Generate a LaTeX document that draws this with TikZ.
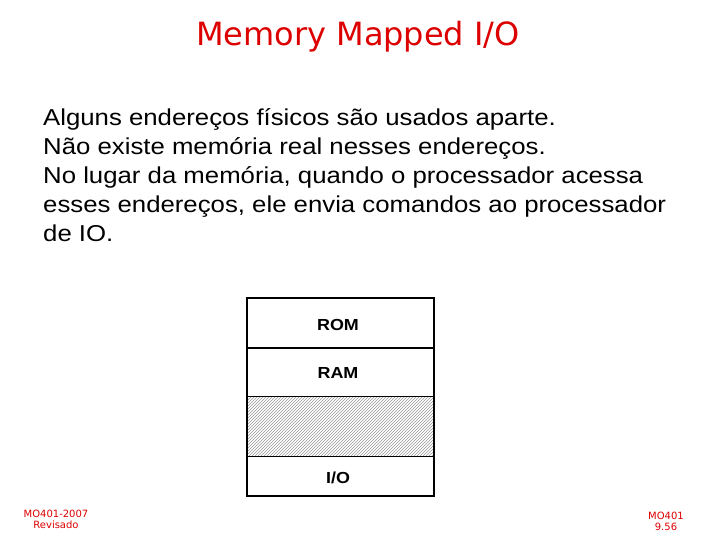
\documentclass[tikz,border=0pt]{standalone}
\usepackage{fontspec}
\setmainfont{Liberation Sans}
\newfontfamily\bodyfont[FakeStretch=1.12]{Liberation Sans}
\newfontfamily\titlefont{DejaVu Sans}
\usetikzlibrary{patterns}
\definecolor{tred}{RGB}{220,0,0}
\begin{document}
\begin{tikzpicture}[x=1pt,y=-1pt,
  lbl/.style={font=\bodyfont\fontsize{16}{18}\selectfont\bfseries},
  foot/.style={font=\titlefont\fontsize{10}{11}\selectfont,text=tred,align=center}]
\useasboundingbox (0,0) rectangle (720,540);
\node[font=\titlefont\fontsize{32}{34}\selectfont,text=tred] (title) at (358,37) {Memory Mapped I/O};
\node[anchor=north west,align=left,font=\bodyfont\fontsize{23}{29}\selectfont,inner sep=0pt] (body) at (43,108)
 {Alguns endereços físicos são usados aparte.\\Não existe memória real nesses endereços.\\No lugar da memória, quando o processador acessa\\esses endereços, ele envia comandos ao processador\\de IO.};
\fill[pattern=north east lines,pattern color=gray!80] (247,396) rectangle (434,456);
\draw[line width=2pt] (247,298) rectangle (434,496);
\draw[line width=2pt] (247,348) -- (434,348);
\draw[line width=0.8pt] (247,396) -- (434,396);
\draw[line width=0.8pt] (247,456) -- (434,456);
\node[lbl] (rom) at (338,325) {ROM};
\node[lbl] (ram) at (338,373) {RAM};
\node[lbl] (io) at (338,478) {I/O};
\node[foot] (fl) at (56,519) {MO401-2007\\Revisado};
\node[foot] (fr) at (666,521) {MO401\\9.56};
\end{tikzpicture}
\end{document}
